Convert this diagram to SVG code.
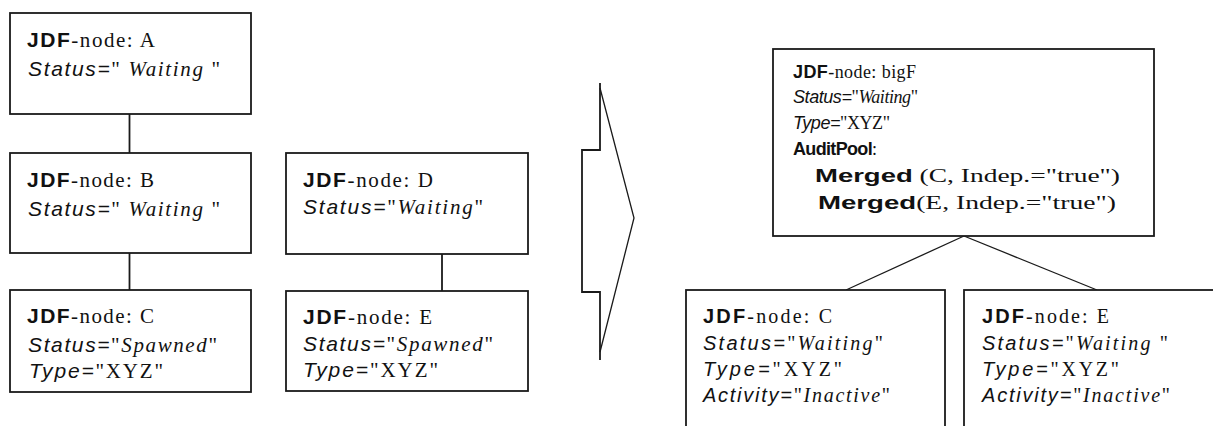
<svg xmlns="http://www.w3.org/2000/svg" width="1213" height="426" viewBox="0 0 1213 426">
<style>
.box{fill:#fff;stroke:#1a1a1a;stroke-width:1.8}
.ln{fill:none;stroke:#1a1a1a;stroke-width:1.8}
.dg{fill:none;stroke:#1a1a1a;stroke-width:1.3}
text{fill:#111;font-family:"Liberation Serif","Times New Roman",serif}
.L{font-size:21px}
.M{font-size:18px}
.R{font-size:20px}
.b{font-family:"Liberation Sans",Arial,sans-serif;font-weight:bold}
.si{font-family:"Liberation Sans",Arial,sans-serif;font-style:italic}
.ri{font-style:italic}
</style>
<rect width="1213" height="426" fill="#fff"/>
<g id="connectors">
<line class="ln" x1="129.5" y1="114" x2="129.5" y2="153"/>
<line class="ln" x1="129.5" y1="253" x2="129.5" y2="290"/>
<line class="ln" x1="442" y1="254" x2="442" y2="291"/>
<line class="dg" x1="964" y1="236" x2="846" y2="290"/>
<line class="dg" x1="964" y1="236" x2="1097" y2="290"/>
</g>
<g id="transform-arrow">
<polyline class="ln" points="600,83 600,150 582,150 582,292 600,292 600,360"/>
<polyline class="dg" points="600,88 634,218 600,352"/>
</g>
<g id="node-A">
<rect class="box" x="10" y="13" width="241" height="101"/>
<text class="L" x="27" y="47" textLength="128" lengthAdjust="spacing"><tspan class="b">JDF</tspan>-node: A</text>
<text class="L" x="28" y="76" textLength="192" lengthAdjust="spacing"><tspan class="si">Status=</tspan>" <tspan class="ri">Waiting</tspan> "</text>
</g>
<g id="node-B">
<rect class="box" x="10" y="153" width="241" height="100"/>
<text class="L" x="27" y="187" textLength="127" lengthAdjust="spacing"><tspan class="b">JDF</tspan>-node: B</text>
<text class="L" x="28" y="216" textLength="192" lengthAdjust="spacing"><tspan class="si">Status=</tspan>" <tspan class="ri">Waiting</tspan> "</text>
</g>
<g id="node-C">
<rect class="box" x="10" y="290" width="241" height="102"/>
<text class="L" x="27" y="323" textLength="127" lengthAdjust="spacing"><tspan class="b">JDF</tspan>-node: C</text>
<text class="L" x="28" y="352" textLength="189" lengthAdjust="spacing"><tspan class="si">Status=</tspan>"<tspan class="ri">Spawned</tspan>"</text>
<text class="L" x="29" y="378" textLength="134" lengthAdjust="spacing"><tspan class="si">Type=</tspan>"XYZ"</text>
</g>
<g id="node-D">
<rect class="box" x="286" y="153" width="242" height="101"/>
<text class="L" x="303" y="187" textLength="130" lengthAdjust="spacing"><tspan class="b">JDF</tspan>-node: D</text>
<text class="L" x="303" y="214" textLength="180" lengthAdjust="spacing"><tspan class="si">Status=</tspan>"<tspan class="ri">Waiting</tspan>"</text>
</g>
<g id="node-E">
<rect class="box" x="286" y="291" width="242" height="100"/>
<text class="L" x="303" y="324" textLength="129" lengthAdjust="spacing"><tspan class="b">JDF</tspan>-node: E</text>
<text class="L" x="303" y="351" textLength="190" lengthAdjust="spacing"><tspan class="si">Status=</tspan>"<tspan class="ri">Spawned</tspan>"</text>
<text class="L" x="303" y="377" textLength="135" lengthAdjust="spacing"><tspan class="si">Type=</tspan>"XYZ"</text>
</g>
<g id="node-bigF">
<rect class="box" x="773" y="49" width="381" height="187"/>
<text class="M" x="793" y="78" textLength="123" lengthAdjust="spacing"><tspan class="b">JDF</tspan>-node: bigF</text>
<text class="M" x="793" y="103" textLength="125" lengthAdjust="spacing"><tspan class="si">Status=</tspan>"<tspan class="ri">Waiting</tspan>"</text>
<text class="M" x="793" y="129" textLength="97" lengthAdjust="spacing"><tspan class="si">Type=</tspan>"XYZ"</text>
<text class="M" x="793" y="155" textLength="84" lengthAdjust="spacing"><tspan class="b">AuditPool</tspan>:</text>
<text class="M" x="815" y="182" textLength="305" lengthAdjust="spacingAndGlyphs"><tspan class="b">Merged</tspan> (C, Indep.="true")</text>
<text class="M" x="818" y="209" textLength="298" lengthAdjust="spacingAndGlyphs"><tspan class="b">Merged</tspan>(E, Indep.="true")</text>
</g>
<g id="node-C2">
<rect class="box" x="686" y="290" width="259" height="160"/>
<text class="R" x="703" y="323" textLength="129" lengthAdjust="spacing"><tspan class="b">JDF</tspan>-node: C</text>
<text class="R" x="703" y="350" textLength="180" lengthAdjust="spacing"><tspan class="si">Status=</tspan>"<tspan class="ri">Waiting</tspan>"</text>
<text class="R" x="703" y="376" textLength="139" lengthAdjust="spacing"><tspan class="si">Type=</tspan>"XYZ"</text>
<text class="R" x="703" y="402" textLength="187" lengthAdjust="spacing"><tspan class="si">Activity=</tspan>"<tspan class="ri">Inactive</tspan>"</text>
</g>
<g id="node-E2">
<rect class="box" x="964" y="290" width="259" height="160"/>
<text class="R" x="982" y="323" textLength="127" lengthAdjust="spacing"><tspan class="b">JDF</tspan>-node: E</text>
<text class="R" x="982" y="350" textLength="186" lengthAdjust="spacing"><tspan class="si">Status=</tspan>"<tspan class="ri">Waiting</tspan> "</text>
<text class="R" x="982" y="376" textLength="137" lengthAdjust="spacing"><tspan class="si">Type=</tspan>"XYZ"</text>
<text class="R" x="982" y="402" textLength="188" lengthAdjust="spacing"><tspan class="si">Activity=</tspan>"<tspan class="ri">Inactive</tspan>"</text>
</g>
</svg>
